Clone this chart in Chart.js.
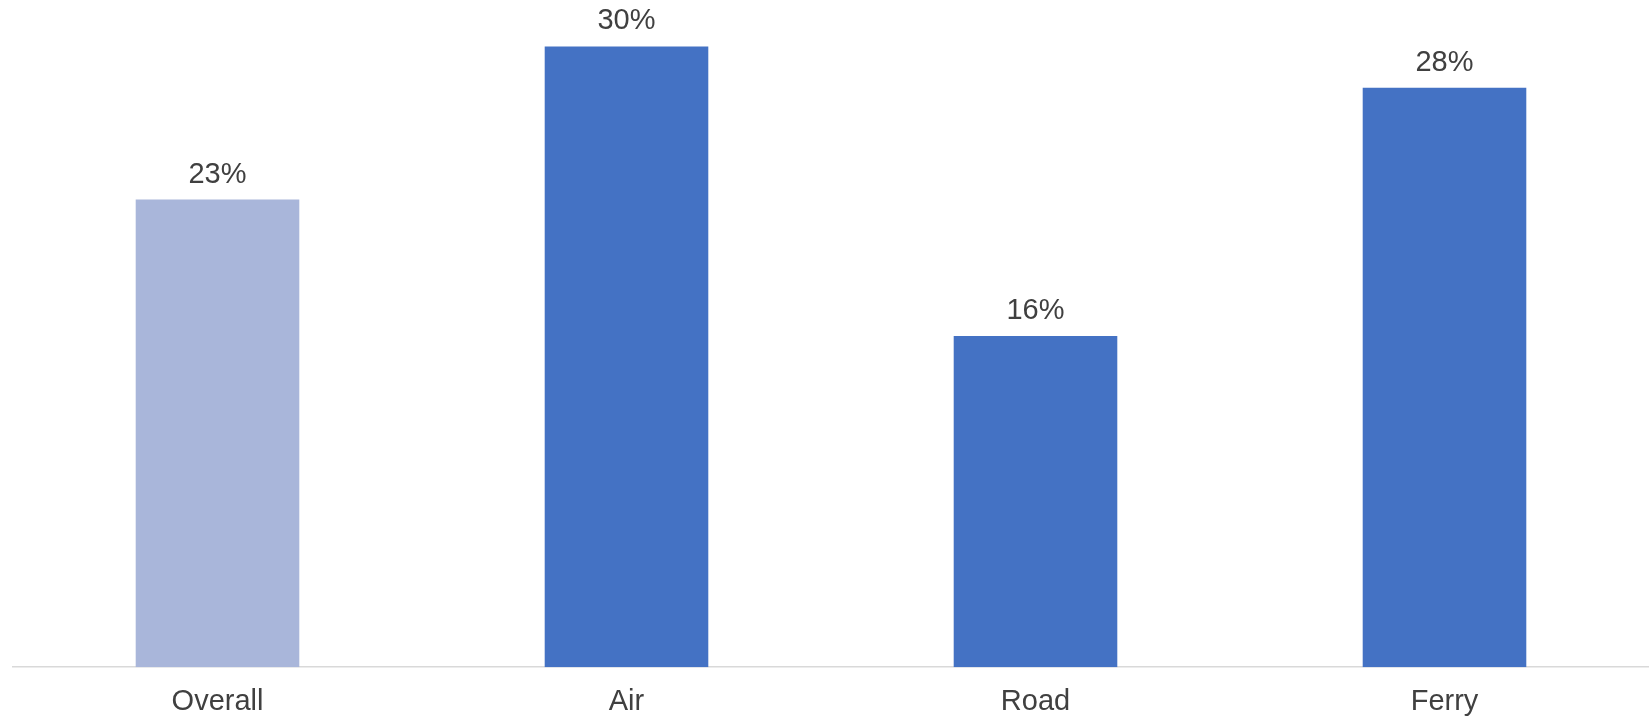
<!DOCTYPE html>
<html>
<head>
<meta charset="utf-8">
<script src="https://cdn.jsdelivr.net/npm/chart.js@4/dist/chart.umd.min.js"></script>
<style>
  html, body { margin: 0; padding: 0; background: #ffffff; }
  #wrap { width: 1649px; height: 717px; position: relative; }
</style>
</head>
<body>
<div id="wrap"><canvas id="myChart"></canvas></div>
<script>
var categories = ['Overall', 'Air', 'Road', 'Ferry'];
var shares = [22.6, 30, 16, 28];
var barColors = ['#A9B6DA', '#4472C4', '#4472C4', '#4472C4'];

// draws the % value above each bar
var valueLabels = {
  id: 'valueLabels',
  afterDatasetsDraw: function (chart) {
    var ctx = chart.ctx;
    var meta = chart.getDatasetMeta(0);
    ctx.save();
    ctx.font = '29px "Liberation Sans", Arial, sans-serif';
    ctx.fillStyle = '#404040';
    ctx.textAlign = 'center';
    ctx.textBaseline = 'alphabetic';
    meta.data.forEach(function (bar, i) {
      ctx.fillText(Math.round(shares[i]) + '%', bar.x, bar.y - 17);
    });
    ctx.restore();
  }
};

var data = {
  labels: categories,
  datasets: [
    {
      data: shares,
      backgroundColor: barColors,
      borderWidth: 0,
      categoryPercentage: 1,
      barPercentage: 0.4
    }
  ]
};

var options = {
  responsive: true,
  maintainAspectRatio: false,
  animation: false,
  layout: { padding: { top: 5, left: 13, right: 0, bottom: -19 } },
  plugins: {
    legend: { display: false },
    tooltip: { enabled: false }
  },
  scales: {
    x: {
      grid: { display: false, drawTicks: false },
      border: { color: '#D9D9D9', width: 1.5 },
      ticks: {
        color: '#404040',
        padding: 17,
        font: { family: '"Liberation Sans", Arial, sans-serif', size: 29 }
      }
    },
    y: {
      display: false,
      min: 0,
      max: 32
    }
  }
};

var ctx = document.getElementById('myChart').getContext('2d');
var myChart = new Chart(ctx, {
  type: 'bar',
  data: data,
  options: options,
  plugins: [valueLabels]
});
</script>
</body>
</html>
